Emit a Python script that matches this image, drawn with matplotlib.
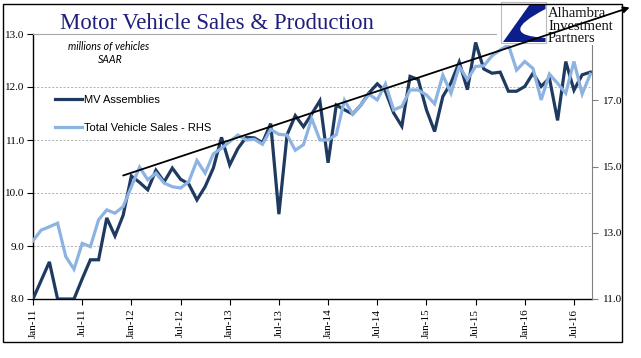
import matplotlib
matplotlib.use("Agg")
import matplotlib.pyplot as plt
from matplotlib.patches import Rectangle, PathPatch
from matplotlib.path import Path
from matplotlib.lines import Line2D
import numpy as np

# ---------------- data ----------------
tick_labels = ["Jan-11", "Jul-11", "Jan-12", "Jul-12", "Jan-13", "Jul-13",
               "Jan-14", "Jul-14", "Jan-15", "Jul-15", "Jan-16", "Jul-16"]

mv_assemblies = [8.0, 8.35, 8.70, 8.0, 8.0, 8.0, 8.38, 8.74, 8.74, 9.53,
                 9.19, 9.58, 10.32, 10.2, 10.06, 10.43, 10.21, 10.47, 10.26, 10.17,
                 9.87, 10.12, 10.47, 11.05, 10.53, 10.84, 11.05, 11.04, 10.95, 11.31,
                 9.6, 11.1, 11.46, 11.25, 11.49, 11.74, 10.57, 11.66, 11.57, 11.49,
                 11.66, 11.89, 12.06, 11.92, 11.51, 11.26, 12.2, 12.14, 11.57, 11.16,
                 11.82, 12.08, 12.47, 11.95, 12.84, 12.34, 12.26, 12.28, 11.92, 11.92,
                 12.01, 12.26, 12.01, 12.17, 11.37, 12.48, 11.94, 12.23, 12.28]

total_sales = [12.76, 13.08, 13.18, 13.29, 12.28, 11.9, 12.68, 12.58, 13.39, 13.69,
               13.59, 13.79, 14.39, 14.98, 14.6, 14.8, 14.5, 14.39, 14.35, 14.54,
               15.18, 14.8, 15.38, 15.55, 15.75, 15.95, 15.8, 15.82, 15.67, 16.12,
               15.97, 15.95, 15.49, 15.66, 16.45, 15.8, 15.8, 15.96, 17.0, 16.58,
               16.86, 17.18, 17.01, 17.49, 16.71, 16.81, 17.31, 17.31, 17.16, 16.89,
               17.76, 17.21, 18.02, 17.63, 18.02, 18.04, 18.34, 18.52, 18.67, 17.91,
               18.17, 17.96, 17.01, 17.79, 17.51, 17.21, 18.17, 17.19, 17.79]

months = np.arange(len(mv_assemblies))

# trend arrow (month index, left-axis value)
trend_start = (11, 10.33)
trend_end = (72.8, 13.5)

# ---------------- style ----------------
DARK = "#1F3A60"
LIGHT = "#8DB3E2"
GRID = "#A6A6A6"
TITLE_C = "#1F1F7A"
SERIF = ["Liberation Serif", "DejaVu Serif"]
SANS = ["Liberation Sans", "DejaVu Sans"]

W, H = 641, 358
fig = plt.figure(figsize=(W / 100, H / 100), dpi=100)
fig.patch.set_facecolor("white")

def fx(px):
    return px / W

def fy(py):
    return 1 - py / H

ax = fig.add_axes([fx(33), fy(299), fx(592) - fx(33), fy(34) - fy(299)])
ax2 = ax.twinx()

ax.plot(months, mv_assemblies, color=DARK, lw=2.3, solid_joinstyle="miter", zorder=3)
ax2.plot(months, total_sales, color=LIGHT, lw=2.3, solid_joinstyle="miter", zorder=3)

ax.set_xlim(0, 68.2)
ax.set_ylim(8, 13)
ax2.set_ylim(11, 19)

ax.set_yticks([8, 9, 10, 11, 12, 13])
ax.set_yticklabels([f"{v:.1f}" for v in [8, 9, 10, 11, 12, 13]])
ax2.set_yticks([11, 13, 15, 17])
ax2.set_yticklabels([f"{v:.1f}" for v in [11, 13, 15, 17]])
ax.set_xticks(np.arange(0, 67, 6))
ax.set_xticklabels(tick_labels, rotation=90)

for lab in ax.get_xticklabels() + ax.get_yticklabels() + ax2.get_yticklabels():
    lab.set_family(SERIF)
    lab.set_fontsize(8)
    lab.set_color("black")

ax.tick_params(axis="x", direction="out", length=4, width=0.8, pad=3, color="black")
ax.tick_params(axis="y", direction="out", length=4, width=0.8, pad=2, color="black")
ax2.tick_params(axis="y", direction="out", length=4, width=0.8, pad=4, color="#808080")

# grid lines (dashed) for 9..12
for v in [9, 10, 11, 12]:
    ax.axhline(v, color=GRID, lw=0.6, ls=(0, (2.5, 2)), zorder=1)

for s in ["top", "right", "left", "bottom"]:
    ax.spines[s].set_visible(False)
    ax2.spines[s].set_visible(False)
ax.spines["left"].set_visible(True)
ax.spines["left"].set_color("black")
ax.spines["left"].set_linewidth(1.0)
ax.spines["bottom"].set_visible(True)
ax.spines["bottom"].set_color("black")
ax.spines["bottom"].set_linewidth(1.0)
ax.spines["top"].set_visible(True)
ax.spines["top"].set_color(GRID)
ax.spines["top"].set_linewidth(0.8)
ax2.spines["right"].set_visible(True)
ax2.spines["right"].set_color("#808080")
ax2.spines["right"].set_linewidth(0.8)

# legend
handles = [Line2D([], [], color=DARK, lw=2.3), Line2D([], [], color=LIGHT, lw=2.3)]
leg = ax2.legend(handles, ["MV Assemblies", "Total Vehicle Sales - RHS"],
                 loc="upper left", bbox_to_anchor=(fx(55), fy(95)),
                 bbox_transform=fig.transFigure, frameon=False,
                 prop={"family": SANS, "size": 8}, handlelength=2.45,
                 handletextpad=0.15, labelspacing=1.6, borderpad=0,
                 borderaxespad=0)

# ---------------- overlay ----------------
ov = fig.add_axes([0, 0, 1, 1], zorder=10)
ov.set_xlim(0, W)
ov.set_ylim(H, 0)
ov.axis("off")
ov.patch.set_alpha(0)

# annotation texts
ov.text(109, 50, "millions of vehicles", ha="center", va="baseline",
        fontsize=7.6, style="italic", family=["Lato", "DejaVu Sans"])
ov.text(110, 63, "SAAR", ha="center", va="baseline",
        fontsize=7.6, style="italic", family=["Lato", "DejaVu Sans"])

# title
ov.text(217, 29, "Motor Vehicle Sales & Production", ha="center", va="baseline",
        fontsize=16.4, color=TITLE_C, family=SERIF)

# logo area
ov.add_patch(Rectangle((497, 0), 125, 45, facecolor="white", edgecolor="none", zorder=2))
ov.add_patch(Rectangle((501, 1.5), 45, 41.5, facecolor="white", edgecolor="#BBBBBB", lw=0.8, zorder=3))
logo_path = Path(
    [(530, 4), (545.5, 4), (545.5, 9), (495, 35), (545.5, 38), (545.5, 42), (503, 42), (530, 4)],
    [Path.MOVETO, Path.LINETO, Path.LINETO, Path.CURVE3, Path.CURVE3, Path.LINETO,
     Path.LINETO, Path.CLOSEPOLY])
ov.add_patch(PathPatch(logo_path, facecolor="#0B1E8C", edgecolor="none", zorder=4))
for txt, yb in [("Alhambra", 17), ("Investment", 29.5), ("Partners", 41.5)]:
    ov.text(548, yb, txt, ha="left", va="baseline", fontsize=10.5,
            family=SERIF, color="#111111", zorder=6)

# frame
ov.add_patch(Rectangle((3, 4), 619, 338, facecolor="none", edgecolor="black", lw=1.0, zorder=7))

# trend arrow
ov.annotate("", xy=trend_end, xycoords=ax.transData,
            xytext=trend_start, textcoords=ax.transData,
            arrowprops=dict(arrowstyle="-|>", color="black", lw=1.3,
                            mutation_scale=9, shrinkA=0, shrinkB=0),
            annotation_clip=False, zorder=8)

fig.savefig("out.png", dpi=100)
